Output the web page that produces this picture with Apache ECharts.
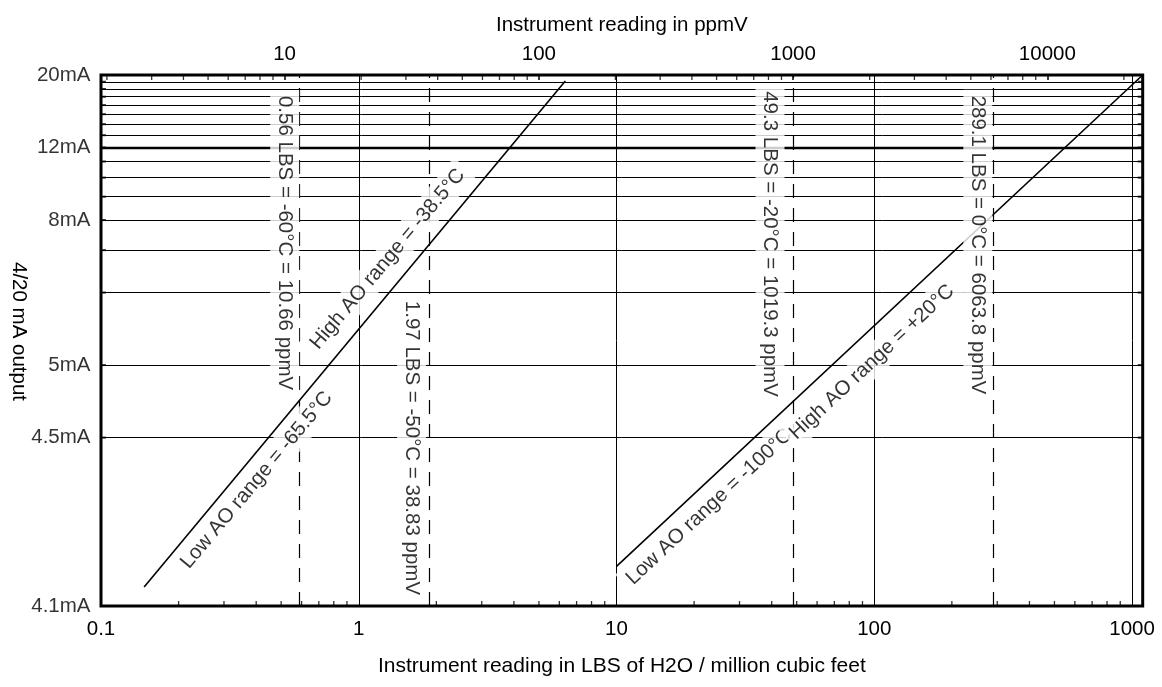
<!DOCTYPE html>
<html>
<head>
<meta charset="utf-8">
<script src="https://cdn.jsdelivr.net/npm/echarts@6/dist/echarts.min.js"></script>
<style>
html,body{margin:0;padding:0;background:#fff;}
#chart{width:1162px;height:687px;}
</style>
</head>
<body>
<div id="chart"></div>
<script>
// ---------------- data ----------------
const lbsRange = [0.1, 1100];            // bottom axis extent (LBS / MMSCF)
const ppmRange = [1.896, 23714];         // top axis extent (ppmV)
const mARange = [4.1, 20];               // output range (mA)

const lbsTickValues = [0.1, 1, 10, 100, 1000];
const lbsMinorTicks = [0.2,0.3,0.4,0.5,0.6,0.7,0.8,0.9, 2,3,4,5,6,7,8,9, 20,30,40,50,60,70,80,90, 200,300,400,500,600,700,800,900];
const ppmTickValues = [10, 100, 1000, 10000];
const ppmMinorTicks = [2,3,4,5,6,7,8,9, 20,30,40,50,60,70,80,90, 200,300,400,500,600,700,800,900, 2000,3000,4000,5000,6000,7000,8000,9000, 20000];
const mATickLabels = [4.1, 4.5, 5, 8, 12, 20];
const mAGridLines = [4.5, 5, 6, 7, 8, 9, 10, 11, 12, 13, 14, 15, 16, 17, 18, 19];
const mAHeavyLine = 12;

const lowAOLbs = [0.147, 6.33];
const lowAOmA  = [4.12, 19.1];
const highAOLbs = [10, 1100];
const highAOmA  = [4.146, 20];

const dewpointLbs = [0.59, 1.87, 48.5, 289];
const dewpointText = [
  '0.56 LBS = -60°C = 10.66 ppmV',
  '1.97 LBS = -50°C = 38.83 ppmV',
  '49.3 LBS = -20°C = 1019.3 ppmV',
  '289.1 LBS = 0°C = 6063.8 ppmV'
];
const rangeText = [
  'High AO range = -38.5°C',
  'Low AO range = -65.5°C',
  'Low AO range = -100°C',
  'High AO range = +20°C'
];

// ---------------- layout (annotation anchors in data units) ----------------
const dewpointLabelAt = [[0.516, 7.21], [1.603, 4.453], [39.4, 7.18], [252.2, 7.15]];
const rangeLabelAt = [[1.294, 6.754], [0.402, 4.333], [22.88, 4.258], [97.9, 5.029]];
const rangeLabelAngle = [50, 50, 43, 43];

// ---------------- helpers ----------------
const FONT = "'Liberation Sans', Arial, Helvetica, sans-serif";
const toAxis = mA => +(mA - 4).toFixed(6);   // y axis is logarithmic in (mA - 4)
const powLabel = v => {
  const l = Math.log10(v);
  return Math.abs(l - Math.round(l)) < 1e-6 ? String(+v.toPrecision(6)) : '';
};
const txt = {color: '#000', fontSize: 20.5, fontFamily: FONT};
const titleTxt = {color: '#000', fontSize: 21, fontFamily: FONT};

const chart = echarts.init(document.getElementById('chart'), null, {renderer: 'canvas'});

const labelData = dewpointText.map((t, i) => ({
  value: [dewpointLabelAt[i][0], toAxis(dewpointLabelAt[i][1])],
  label: {formatter: t, rotate: -90}
})).concat(rangeText.map((t, i) => ({
  value: [rangeLabelAt[i][0], toAxis(rangeLabelAt[i][1])],
  label: {formatter: t, rotate: rangeLabelAngle[i]}
})));

const option = {
  animation: false,
  backgroundColor: '#fff',
  grid: {left: 100, right: 19.3, top: 75, bottom: 81, show: true, borderColor: '#000', borderWidth: 3, backgroundColor: 'transparent'},
  xAxis: [
    {
      type: 'log', logBase: 10, min: lbsRange[0], max: lbsRange[1], position: 'bottom',
      axisLine: {show: false}, axisTick: {show: false},
      splitLine: {show: true, lineStyle: {color: '#000', width: 1}},
      axisLabel: Object.assign({formatter: powLabel, margin: 13}, txt),
      name: 'Instrument reading in LBS of H2O / million cubic feet',
      nameLocation: 'middle', nameGap: 50, nameTextStyle: titleTxt
    },
    {
      type: 'log', logBase: 10, min: ppmRange[0], max: ppmRange[1], position: 'top',
      axisLine: {show: false},
      axisTick: {show: true, inside: true, length: 5, lineStyle: {color: '#000', width: 1.5}},
      splitLine: {show: false},
      axisLabel: Object.assign({formatter: powLabel, margin: 10}, txt),
      name: 'Instrument reading in ppmV',
      nameLocation: 'middle', nameGap: 39, nameTextStyle: txt
    }
  ],
  yAxis: [{
    type: 'log', logBase: 10, min: toAxis(mARange[0]), max: toAxis(mARange[1]),
    axisLine: {show: false}, axisTick: {show: false}, axisLabel: {show: false}, splitLine: {show: false},
    name: '4/20 mA output', nameLocation: 'middle', nameRotate: -90, nameGap: 72,
    nameTextStyle: Object.assign({padding: [0, 18, 0, 0]}, txt)
  }],
  series: [
    { // mA tick labels + horizontal grid lines
      type: 'scatter', xAxisIndex: 0, yAxisIndex: 0, clip: false, silent: true, z: 2,
      symbol: 'circle', symbolSize: 1, itemStyle: {color: 'rgba(0,0,0,0)'},
      data: mATickLabels.map(m => [lbsRange[0], toAxis(m), m]),
      label: Object.assign({show: true, position: 'left', distance: 10, formatter: p => p.value[2] + 'mA'}, txt),
      markLine: {
        silent: true, symbol: ['none', 'none'], label: {show: false}, z: 3,
        lineStyle: {type: 'solid', color: '#000', width: 1},
        data: mAGridLines.map(m => ({yAxis: toAxis(m), lineStyle: {type: 'solid', color: '#000', width: m === mAHeavyLine ? 2.4 : 1}}))
      }
    },
    { // bottom minor ticks + dashed dew point lines
      type: 'scatter', xAxisIndex: 0, yAxisIndex: 0, clip: false, silent: true, z: 4,
      symbol: 'rect', symbolSize: [1.3, 5], symbolOffset: [0, -2.5], itemStyle: {color: '#000'},
      data: lbsMinorTicks.map(v => [v, toAxis(mARange[0])]),
      markLine: {
        silent: true, symbol: ['none', 'none'], label: {show: false}, z: 4,
        lineStyle: {type: [14, 10], color: '#000', width: 1.2},
        data: dewpointLbs.map(v => ({xAxis: v}))
      }
    },
    { // top minor ticks
      type: 'scatter', xAxisIndex: 1, yAxisIndex: 0, clip: false, silent: true, z: 4,
      symbol: 'rect', symbolSize: [1.3, 5], symbolOffset: [0, 2.5], itemStyle: {color: '#000'},
      data: ppmMinorTicks.map(v => [v, toAxis(mARange[1])])
    },
    { // left border ticks
      type: 'scatter', xAxisIndex: 0, yAxisIndex: 0, clip: false, silent: true, z: 4,
      symbol: 'rect', symbolSize: [5, 2], symbolOffset: [2.5, 0], itemStyle: {color: '#000'},
      data: mAGridLines.map(m => [lbsRange[0], toAxis(m)])
    },
    { // right border ticks
      type: 'scatter', xAxisIndex: 0, yAxisIndex: 0, clip: false, silent: true, z: 4,
      symbol: 'rect', symbolSize: [5, 2], symbolOffset: [-2.5, 0], itemStyle: {color: '#000'},
      data: mAGridLines.map(m => [lbsRange[1], toAxis(m)])
    },
    {
      name: 'Low AO line', type: 'line', xAxisIndex: 0, yAxisIndex: 0, z: 6, silent: true,
      showSymbol: false, symbol: 'none', lineStyle: {color: '#000', width: 1.6},
      data: lowAOLbs.map((x, i) => [x, toAxis(lowAOmA[i])])
    },
    {
      name: 'High AO line', type: 'line', xAxisIndex: 0, yAxisIndex: 0, z: 6, silent: true,
      showSymbol: false, symbol: 'none', lineStyle: {color: '#000', width: 1.6},
      data: highAOLbs.map((x, i) => [x, toAxis(highAOmA[i])])
    },
    { // annotations with white boxes
      type: 'scatter', xAxisIndex: 0, yAxisIndex: 0, z: 20, silent: true,
      symbol: 'circle', symbolSize: 1, itemStyle: {color: 'rgba(0,0,0,0)'},
      label: Object.assign({show: true, position: 'inside', align: 'center', verticalAlign: 'middle',
        backgroundColor: '#fff', padding: [4, 6], lineHeight: 21}, txt),
      data: labelData
    }
  ]
};
chart.setOption(option);
</script>
</body>
</html>
